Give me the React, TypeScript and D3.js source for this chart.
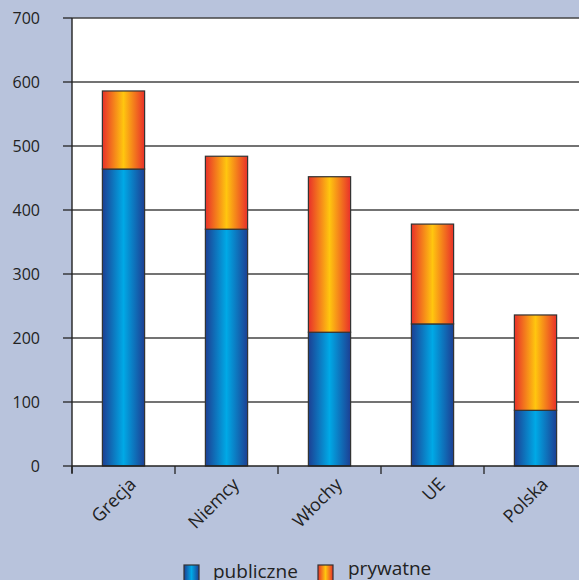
import React from "react";
import * as d3 from "d3";

const countries = ["Grecja", "Niemcy", "Włochy", "UE", "Polska"];
const publiczne = [464, 370, 209, 222, 87];
const prywatne = [122, 114, 243, 156, 149];
const yTicks = [0, 100, 200, 300, 400, 500, 600, 700];

const W = 579;
const H = 580;
const FONT = "'Open Sans', 'Noto Sans', sans-serif";

export default function App() {
  const x = d3.scaleBand().domain(countries).range([72, 587]).paddingInner(0.59).paddingOuter(0.295);
  const y = d3.scaleLinear().domain([0, 700]).range([466, 18]);

  const stacked = countries.map((c, i) => ({
    name: c,
    pub: publiczne[i],
    pry: prywatne[i],
  }));

  const stepW = 103;

  return (
    <svg width={W} height={H} style={{ position: "absolute", left: 0, top: 0, display: "block" }}>
      <defs>
        <linearGradient id="gBlue" x1="0" x2="1" y1="0" y2="0">
          <stop offset="0" stopColor="#1c3f93" />
          <stop offset="0.5" stopColor="#00a9e6" />
          <stop offset="1" stopColor="#1c3f93" />
        </linearGradient>
        <linearGradient id="gOrange" x1="0" x2="1" y1="0" y2="0">
          <stop offset="0" stopColor="#e8302a" />
          <stop offset="0.5" stopColor="#ffc60f" />
          <stop offset="1" stopColor="#e8302a" />
        </linearGradient>
      </defs>
      <rect x={0} y={0} width={W} height={H} fill="#b8c3dc" />
      <rect x={72} y={y(700)} width={W - 72} height={y(0) - y(700)} fill="#ffffff" />

      {/* gridlines */}
      {yTicks.slice(1).map((t) => (
        <line key={t} x1={72} x2={W} y1={y(t)} y2={y(t)} stroke="#444" strokeWidth={1.3} />
      ))}

      {/* bars */}
      {stacked.map((d) => (
        <g key={d.name}>
          <rect
            x={x(d.name)}
            y={y(d.pub)}
            width={x.bandwidth()}
            height={y(0) - y(d.pub)}
            fill="url(#gBlue)"
            stroke="#333"
            strokeWidth={1.2}
          />
          <rect
            x={x(d.name)}
            y={y(d.pub + d.pry)}
            width={x.bandwidth()}
            height={y(d.pub) - y(d.pub + d.pry)}
            fill="url(#gOrange)"
            stroke="#333"
            strokeWidth={1.2}
          />
        </g>
      ))}

      {/* y axis */}
      <line x1={72} x2={72} y1={y(700)} y2={y(0) + 7} stroke="#222" strokeWidth={1.4} />
      {yTicks.map((t) => (
        <g key={t}>
          <line x1={63} x2={72} y1={y(t)} y2={y(t)} stroke="#222" strokeWidth={1.3} />
          <text x={40} y={y(t)} dy="0.35em" textAnchor="end" fontFamily={FONT} fontSize={16} fontWeight={500} fill="#222">
            {t}
          </text>
        </g>
      ))}

      {/* x axis */}
      <line x1={72} x2={W} y1={y(0)} y2={y(0)} stroke="#222" strokeWidth={1.4} />
      {countries.map((c, i) => (
        <line key={c} x1={72 + i * stepW} x2={72 + i * stepW} y1={y(0)} y2={y(0) + 8} stroke="#222" strokeWidth={1.3} />
      ))}
      {countries.map((c) => {
        const cx = (x(c) as number) + x.bandwidth() / 2 + 4;
        return (
          <text
            key={c}
            transform={`translate(${cx},${y(0) + 10}) rotate(-45)`}
            textAnchor="end"
            dy="0.75em"
            fontFamily={FONT}
            fontSize={18}
            fontWeight={500}
            fill="#222"
          >
            {c}
          </text>
        );
      })}

      {/* legend */}
      <rect x={184} y={565} width={15} height={16} fill="url(#gBlue)" stroke="#333" strokeWidth={1.2} />
      <text x={213} y={578} fontFamily={FONT} fontSize={19} fontWeight={500} fill="#222">publiczne</text>
      <rect x={318} y={565} width={15} height={16} fill="url(#gOrange)" stroke="#333" strokeWidth={1.2} />
      <text x={348} y={575} fontFamily={FONT} fontSize={19} fontWeight={500} fill="#222">prywatne</text>
    </svg>
  );
}
